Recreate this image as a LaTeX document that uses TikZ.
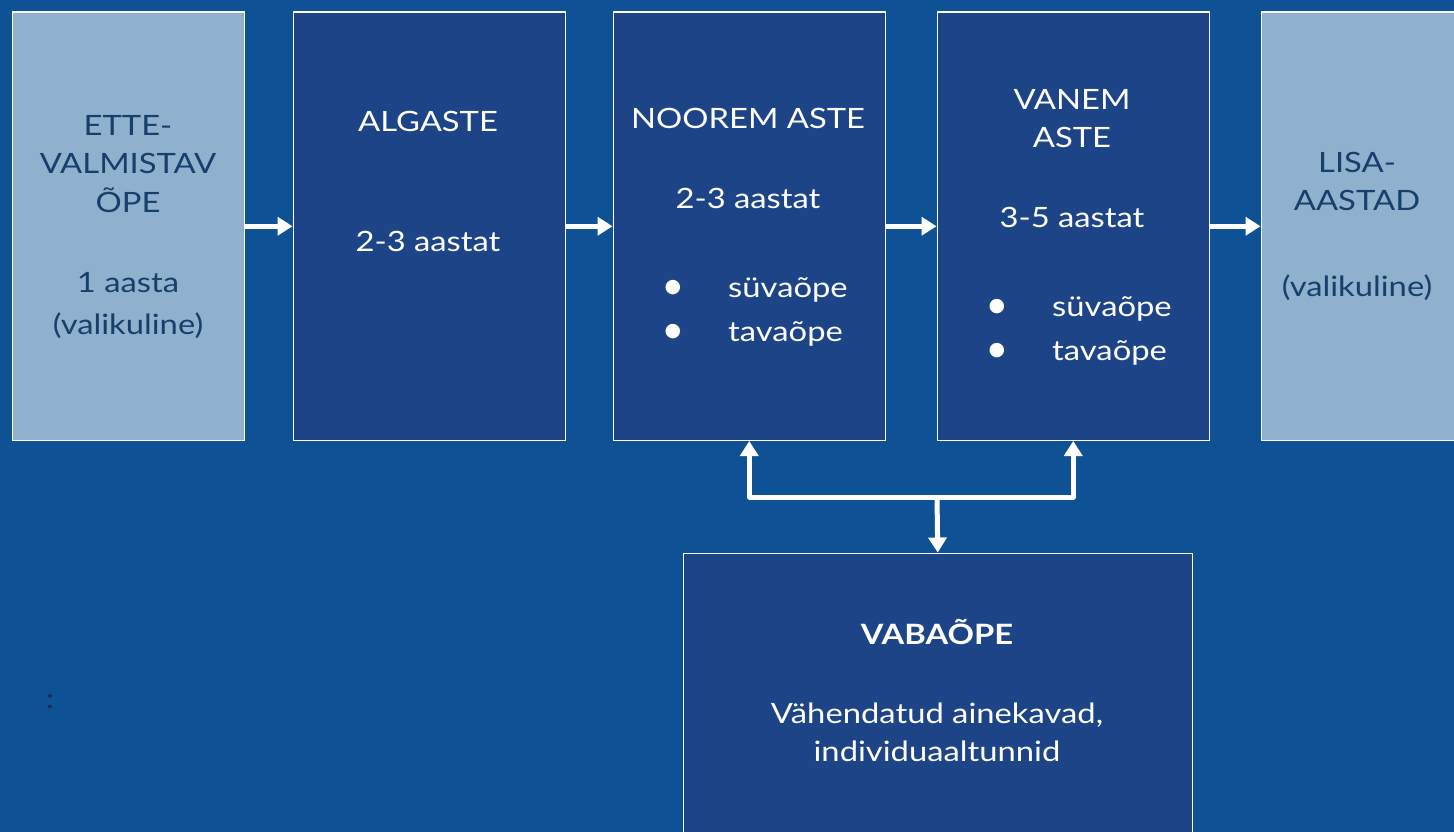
\documentclass[tikz,border=0pt]{standalone}
\usepackage{fontspec}
\setmainfont{Lato}[FakeStretch=1.17]
\newfontfamily\dejavu{DejaVu Sans}
\usetikzlibrary{arrows.meta}
\definecolor{bg}{HTML}{0E5295}
\definecolor{darkbox}{HTML}{1D4487}
\definecolor{lightbox}{HTML}{90B1CE}
\definecolor{darktext}{HTML}{173F6C}
\definecolor{colonc}{HTML}{1A2A5E}
\tikzset{
  box/.style={draw=white, line width=1.5pt, anchor=north west, inner sep=0pt},
  dbox/.style={box, fill=darkbox},
  lbox/.style={box, fill=lightbox},
  wt/.style={text=white, font=\fontsize{28}{34}\selectfont, inner sep=0pt, anchor=base},
  dt/.style={text=darktext, font=\fontsize{28}{34}\selectfont, inner sep=0pt, anchor=base},
  bul/.style={text=white, font=\dejavu\fontsize{19}{22}\selectfont, inner sep=0pt, anchor=center},
  arr/.style={draw=white, line width=5pt, line join=round, -{Triangle[width=18pt,length=15pt]}},
}
\begin{document}
\begin{tikzpicture}[x=1pt,y=-1pt]
\fill[bg] (0,0) rectangle (1454,832);
\useasboundingbox (0,0) rectangle (1454,832);
% boxes
\node[lbox, minimum width=232pt, minimum height=428pt] (b1) at (11.5,11.5) {};
\node[dbox, minimum width=272pt, minimum height=428pt] (b2) at (292.5,11.5) {};
\node[dbox, minimum width=272pt, minimum height=428pt] (b3) at (612.5,11.5) {};
\node[dbox, minimum width=272pt, minimum height=428pt] (b4) at (936.5,11.5) {};
\node[lbox, minimum width=200pt, minimum height=428pt] (b5) at (1260.5,11.5) {};
\node[dbox, minimum width=509pt, minimum height=300pt] (b6) at (682.5,552.5) {};
% texts box 1
\node[dt] (t1a) at (128,136) {ETTE-};
\node[dt] (t1b) at (128,174) {VALMISTAV};
\node[dt] (t1c) at (128,212) {ÕPE};
\node[dt] (t1d) at (128,292) {1 aasta};
\node[dt] (t1e) at (128,334) {(valikuline)};
% box 2
\node[wt] (t2a) at (428,132) {ALGASTE};
\node[wt] (t2b) at (428,251) {2-3 aastat};
% box 3
\node[wt] (t3a) at (748,129) {NOOREM ASTE};
\node[wt] (t3b) at (748,208) {2-3 aastat};
\node[bul] (t3c) at (673,288) {●};
\node[wt, anchor=base west] (t3d) at (728,297) {süvaõpe};
\node[bul] (t3e) at (673,332) {●};
\node[wt, anchor=base west] (t3f) at (728,341) {tavaõpe};
% box 4
\node[wt] (t4a) at (1072,110) {VANEM};
\node[wt] (t4b) at (1072,148) {ASTE};
\node[wt] (t4c) at (1072,227) {3-5 aastat};
\node[bul] (t4d) at (997,307) {●};
\node[wt, anchor=base west] (t4e) at (1052,316) {süvaõpe};
\node[bul] (t4f) at (997,351) {●};
\node[wt, anchor=base west] (t4g) at (1052,360) {tavaõpe};
% box 5
\node[dt] (t5a) at (1357,172) {LISA-};
\node[dt] (t5b) at (1357,210) {AASTAD};
\node[dt] (t5c) at (1357,296) {(valikuline)};
% box 6
\node[wt, font=\fontsize{28}{34}\selectfont\bfseries] (t6a) at (937,644) {VABAÕPE};
\node[wt] (t6b) at (937,723) {Vähendatud ainekavad,};
\node[wt] (t6c) at (937,761) {individuaaltunnid};
% stray colon
\node[text=colonc, font=\fontsize{28}{34}\selectfont, inner sep=0pt, anchor=base] (colon) at (50,708) {:};
% arrows
\draw[arr] (b1.east) -- (b2.west);
\draw[arr] (b2.east) -- (b3.west);
\draw[arr] (b3.east) -- (b4.west);
\draw[arr] (b4.east) -- (b5.west);
\coordinate (j) at (937,497);
\draw[arr] (j) -| (b3.south);
\draw[arr] (j) -| (b4.south);
\draw[arr] (j) -- (b6.north);
\end{tikzpicture}
\end{document}
